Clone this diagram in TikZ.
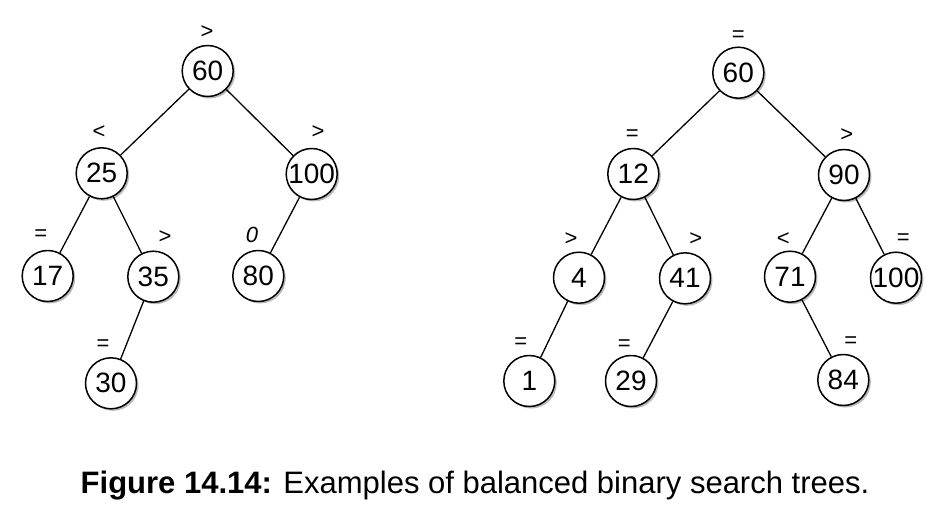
\documentclass[tikz,border=0pt]{standalone}
\usepackage{fontspec}
\setmainfont{Liberation Sans}
\usetikzlibrary{shadows}
\begin{document}
\begin{tikzpicture}[x=1pt,y=-1pt,
  tn/.style={circle,draw,line width=1.5pt,fill=white,minimum size=51pt,inner sep=0pt,
    font=\fontsize{28}{28}\selectfont,
    drop shadow={shadow xshift=2pt,shadow yshift=-2pt,fill=black!45,opacity=0.6}},
  bal/.style={font=\fontsize{22}{22}\selectfont,inner sep=0pt},
  ed/.style={line width=1.3pt}]
\useasboundingbox (0,0) rectangle (942,512);
% left tree
\node[tn] (a60) at (207.7,71) {60};
\node[tn] (a25) at (101.7,173.3) {25};
\node[tn] (a100) at (311.7,174) {100};
\node[tn] (a17) at (47.7,276) {17};
\node[tn] (a35) at (153.3,276.7) {35};
\node[tn] (a80) at (258.3,276) {80};
\node[tn] (a30) at (111,383.3) {30};
\draw[ed] (a60) -- (a25);
\draw[ed] (a60) -- (a100);
\draw[ed] (a25) -- (a17);
\draw[ed] (a25) -- (a35);
\draw[ed] (a100) -- (a80);
\draw[ed] (a35) -- (a30);
\node[bal] (la60) at (207,32) {>};
\node[bal] (la25) at (99,132) {<};
\node[bal] (la100) at (318,132) {>};
\node[bal] (la17) at (40.7,235) {=};
\node[bal] (la35) at (165,237) {>};
\node[bal] (la80) at (252,235) {\itshape 0};
\node[bal] (la30) at (103,345) {=};
% right tree
\node[tn] (b60) at (738.3,72.7) {60};
\node[tn] (b12) at (633.3,174) {12};
\node[tn] (b90) at (844,175) {90};
\node[tn] (b4) at (579,277.7) {4};
\node[tn] (b41) at (685,278.3) {41};
\node[tn] (b71) at (790,276.7) {71};
\node[tn] (b100) at (896,277.7) {100};
\node[tn] (b1) at (529.3,381) {1};
\node[tn] (b29) at (631,381) {29};
\node[tn] (b84) at (843.3,380) {84};
\draw[ed] (b60) -- (b12);
\draw[ed] (b60) -- (b90);
\draw[ed] (b12) -- (b4);
\draw[ed] (b12) -- (b41);
\draw[ed] (b90) -- (b71);
\draw[ed] (b90) -- (b100);
\draw[ed] (b4) -- (b1);
\draw[ed] (b41) -- (b29);
\draw[ed] (b71) -- (b84);
\node[bal] (lb60) at (738.3,36) {=};
\node[bal] (lb12) at (632.3,135) {=};
\node[bal] (lb90) at (846.7,135) {>};
\node[bal] (lb4) at (571,239) {>};
\node[bal] (lb41) at (695.7,239) {>};
\node[bal] (lb71) at (783.3,239) {<};
\node[bal] (lb100) at (903.3,239) {=};
\node[bal] (lb1) at (520.7,343) {=};
\node[bal] (lb29) at (624.3,345) {=};
\node[bal] (lb84) at (850.7,342) {=};
% caption
\node[font=\fontsize{31}{31}\selectfont,inner sep=0pt,anchor=base] (cap) at (475,493)
  {\textbf{Figure 14.14:} Examples of balanced binary search trees.};
\end{tikzpicture}
\end{document}
